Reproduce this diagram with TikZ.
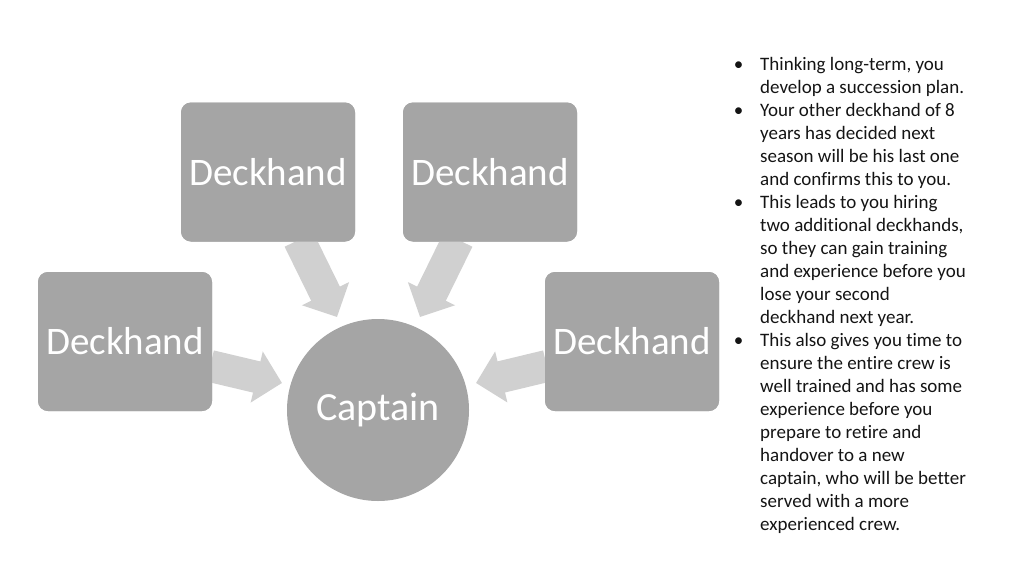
\documentclass[tikz,border=0pt]{standalone}
\usepackage{fontspec}
\setmainfont{Carlito}[Ligatures=NoCommon]
\usetikzlibrary{arrows.meta,calc}
\definecolor{boxgray}{HTML}{A5A5A5}
\definecolor{arrowgray}{HTML}{D0D0D0}
\definecolor{txtdark}{HTML}{141414}
\tikzset{
  deckbox/.style={fill=boxgray, draw=none, rounded corners=10pt, minimum width=174pt, minimum height=139pt, inner sep=0pt, text=white, font=\fontsize{39}{42}\selectfont},
  capcircle/.style={circle, fill=boxgray, draw=none, minimum size=182pt, inner sep=0pt, text=white, font=\fontsize{40}{42}\selectfont},
  blockarrow/.style={draw=arrowgray, line width=32pt, line cap=butt, -{Triangle[length=26pt 0 0, width=51pt 0 0, fill=arrowgray]}},
  bullettext/.style={anchor=north west, inner sep=0pt, align=left, text=txtdark, font=\fontsize{19}{23}\selectfont}
}
\newcommand{\bul}{\llap{\textbullet\hspace{17pt}}}
\begin{document}
\begin{tikzpicture}[x=1pt,y=-1pt]
\useasboundingbox (0,0) rectangle (1024,576);
% nodes
\node[deckbox] (d1) at (268,172) {Deckhand};
\node[deckbox] (d2) at (490,172) {Deckhand};
\node[deckbox] (d3) at (125,341.5) {Deckhand};
\node[deckbox] (d4) at (632,341.5) {Deckhand};
\node[capcircle] (cap) at (378,410) {\raisebox{-2pt}{Captain}};
% arrow tips
\coordinate (tipTL) at (337,317);
\coordinate (tipTR) at (420,317);
\coordinate (tipL) at (282,383);
\coordinate (tipR) at (476,383);
% arrows
\draw[blockarrow] ($(d1.south)+(31,-2)$) -- (tipTL);
\draw[blockarrow] ($(d2.south)+(-32,-2)$) -- (tipTR);
\draw[blockarrow] ($(d3.east)+(-2,24.5)$) -- (tipL);
\draw[blockarrow] ($(d4.west)+(2,24.5)$) -- (tipR);
% redraw boxes above arrow starts
\node[deckbox] at (d1) {Deckhand};
\node[deckbox] at (d2) {Deckhand};
\node[deckbox] at (d3) {Deckhand};
\node[deckbox] at (d4) {Deckhand};
% text
\node[bullettext] (txt) at (760,57) {%
\bul Thinking long-term, you\\
develop a succession plan.\\
\bul Your other deckhand of 8\\
years has decided next\\
season will be his last one\\
and confirms this to you.\\
\bul This leads to you hiring\\
two additional deckhands,\\
so they can gain training\\
and experience before you\\
lose your second\\
deckhand next year.\\
\bul This also gives you time to\\
ensure the entire crew is\\
well trained and has some\\
experience before you\\
prepare to retire and\\
handover to a new\\
captain, who will be better\\
served with a more\\
experienced crew.};
\end{tikzpicture}
\end{document}
